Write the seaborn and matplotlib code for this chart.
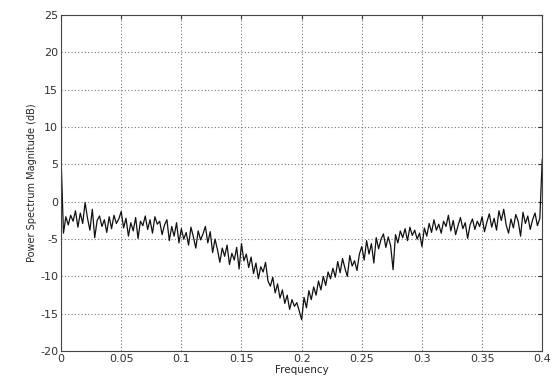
import numpy as np
import pandas as pd
import matplotlib
matplotlib.use('Agg')
import matplotlib.pyplot as plt
import seaborn as sns

# Power spectrum magnitude (dB), step 0.002
mag_0 = [6.0, -4.2, -2.0, -3.1, -1.8, -2.6, -1.2, -3.4, -1.5, -2.9,
         -0.1, -2.2, -3.8, -1.0, -4.8, -2.5, -1.9, -3.3, -2.4, -4.1,
         -2.0, -3.6, -1.8, -2.9, -2.3]
mag_1 = [-1.3, -3.5, -2.2, -4.6, -2.8, -3.9, -2.1, -4.9, -2.6, -3.2,
         -1.9, -3.7, -2.4, -4.2, -2.0, -3.0, -2.6, -4.4, -3.1, -2.4,
         -5.2, -3.3, -4.6, -2.8, -5.5]
mag_2 = [-3.6, -5.0, -4.1, -5.8, -3.4, -4.7, -6.2, -3.9, -5.1, -4.3,
         -3.3, -5.5, -4.0, -6.8, -5.0, -6.4, -8.1, -6.2, -7.3, -5.8,
         -8.4, -6.9, -7.8, -6.1, -9.0]
mag_3 = [-5.6, -7.9, -7.0, -8.8, -7.4, -9.6, -8.2, -10.3, -8.7, -9.4,
         -8.1, -10.6, -11.3, -10.1, -12.2, -11.0, -12.9, -11.8, -13.6, -12.5,
         -14.4, -13.1, -14.0, -13.5, -14.6]
mag_4 = [-15.8, -12.8, -14.2, -11.9, -13.1, -11.4, -12.5, -10.6, -11.8, -10.0,
         -11.2, -9.4, -10.3, -8.9, -10.1, -8.0, -9.5, -7.6, -8.9, -10.0,
         -7.2, -8.6, -7.9, -9.2, -7.0]
mag_5 = [-6.0, -7.8, -5.2, -7.0, -5.6, -8.2, -4.8, -6.3, -5.0, -4.3,
         -6.1, -4.7, -5.9, -9.1, -4.4, -5.5, -3.9, -4.8, -3.6, -5.2,
         -3.4, -4.5, -3.8, -5.0, -4.2]
mag_6 = [-6.0, -3.5, -4.6, -2.9, -4.1, -2.4, -3.8, -3.0, -4.2, -2.6,
         -3.3, -1.8, -3.9, -2.5, -4.4, -3.2, -2.1, -3.6, -2.8, -4.9,
         -3.1, -2.3, -3.7, -2.6, -3.3]
mag_7 = [-2.0, -4.0, -2.7, -1.6, -3.4, -2.2, -3.8, -1.2, -2.5, -1.0,
         -3.1, -4.2, -2.3, -3.5, -1.7, -2.6, -4.6, -1.4, -2.9, -1.9,
         -3.7, -2.4, -1.5, -3.2, -2.2, 5.7]

magnitude = mag_0 + mag_1 + mag_2 + mag_3 + mag_4 + mag_5 + mag_6 + mag_7
frequency = np.linspace(0, 0.4, len(magnitude))

df = pd.DataFrame({'Frequency': frequency, 'Magnitude': magnitude})

sns.set_style('white')
plt.rcParams['font.family'] = ['DejaVu Sans']
plt.rcParams['axes.unicode_minus'] = False

fig = plt.figure(figsize=(5.55, 3.88), dpi=100)
ax = fig.add_axes([0.110, 0.095, 0.867, 0.866])

sns.lineplot(data=df, x='Frequency', y='Magnitude', ax=ax,
             color='#111111', linewidth=0.9)

ax.set_xlim(0, 0.4)
ax.set_ylim(-20, 25)
ax.set_xticks([0, 0.05, 0.1, 0.15, 0.2, 0.25, 0.3, 0.35, 0.4])
ax.set_xticklabels(['0', '0.05', '0.1', '0.15', '0.2', '0.25', '0.3', '0.35', '0.4'])
ax.set_yticks(range(-20, 30, 5))

ax.grid(True, linestyle=(0, (1, 2)), color='#777777', linewidth=0.8)
ax.tick_params(direction='in', top=True, right=True, length=3,
               labelsize=8, colors='#333333', pad=2)
for s in ax.spines.values():
    s.set_color('#444444')
    s.set_linewidth(0.8)

ax.set_xlabel('Frequency', fontsize=7.5, labelpad=1)
ax.set_ylabel('Power Spectrum Magnitude (dB)', fontsize=7, labelpad=2)

fig.savefig('out.png', dpi=100)
